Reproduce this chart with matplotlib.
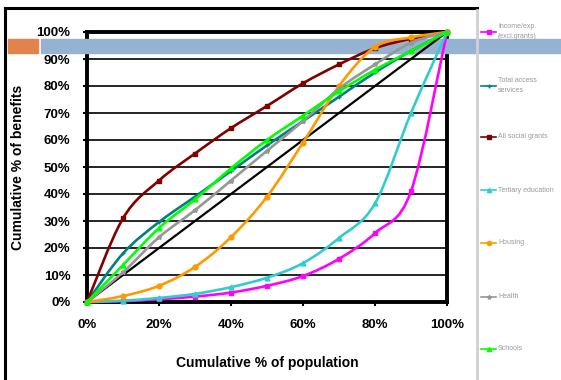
import numpy as np
import matplotlib.pyplot as plt
from matplotlib.lines import Line2D
from matplotlib.patches import Rectangle, PathPatch
from matplotlib.path import Path

plt.rcParams['font.family'] = ['Liberation Sans', 'DejaVu Sans']

# cumulative % of population (deciles)
population = [0, 10, 20, 30, 40, 50, 60, 70, 80, 90, 100]

# cumulative % of benefits per item
income_exp = [0, 0.3, 1, 2, 3.5, 6, 9.6, 16, 25.5, 41, 100]
total_access = [0, 18, 29.6, 39, 48.5, 58, 67, 76, 85, 93, 100]
social_grants = [0, 31, 45, 55, 64.4, 72.6, 81, 88, 94, 97.5, 100]
tertiary = [0, 0.5, 1.5, 3, 5.5, 9, 14.4, 23.7, 36.5, 70, 100]
housing = [0, 2.2, 6, 13, 24, 39, 59, 80, 94.5, 98, 100]
health = [0, 11, 24, 34, 45, 56, 67, 79, 88, 96, 100]
schools = [0, 13.7, 27.4, 38, 49.5, 60, 69, 78, 86, 93, 100]
equality = [0, 10, 20, 30, 40, 50, 60, 70, 80, 90, 100]

series = [
    ('Income/exp.\n(excl.grants)', income_exp, '#ff00ff', 's'),
    ('Total access\nservices', total_access, '#008080', '+'),
    ('All social grants', social_grants, '#800000', 's'),
    ('Tertiary education', tertiary, '#33cccc', '^'),
    ('Housing', housing, '#ff9900', 'o'),
    ('Health', health, '#969696', '*'),
    ('Schools', schools, '#00ff00', '^'),
]
legend_y = [32, 86, 137, 190, 243, 297, 349]


def smooth_path(xs, ys):
    # cubic Bezier through every point (Excel style "smoothed line")
    pts = np.column_stack([xs, ys]).astype(float)
    n = len(pts)
    verts = [pts[0]]
    codes = [Path.MOVETO]
    for i in range(n - 1):
        p0 = pts[max(i - 1, 0)]
        p1 = pts[i]
        p2 = pts[i + 1]
        p3 = pts[min(i + 2, n - 1)]
        c1 = p1 + (p2 - p0) / 6
        c2 = p2 - (p3 - p1) / 6
        verts += [c1, c2, p2]
        codes += [Path.CURVE4] * 3
    return Path(verts, codes)


W, H = 561, 380
fig = plt.figure(figsize=(W / 100, H / 100), dpi=100)
ax = fig.add_axes([87 / W, 1 - 302 / H, 360 / W, 270 / H])

ax.plot(population, equality, color='black', lw=1.6, zorder=3)
for name, vals, col, mk in series:
    ax.add_patch(PathPatch(smooth_path(population, vals), fill=False,
                           edgecolor=col, lw=1.9, zorder=4, clip_on=False))
    ax.plot(population, vals, ls='none', marker=mk, ms=3.5,
            mec=col, mfc=col, zorder=4, clip_on=False)

ax.set_xlim(0, 100)
ax.set_ylim(0, 100)
ax.set_xticks(np.arange(0, 101, 20))
ax.set_yticks(np.arange(0, 101, 10))
ax.set_xticklabels([f'{v}%' for v in range(0, 101, 20)], fontweight='bold', fontsize=9.5)
ax.set_yticklabels([f'{v}%' for v in range(0, 101, 10)], fontweight='bold', fontsize=9.5)
ax.tick_params(axis='x', direction='out', length=3, width=1.5, pad=9)
ax.tick_params(axis='y', direction='out', length=3, width=1.5, pad=9)
for v in range(10, 100, 10):
    ax.axhline(v, color='black', lw=1.2, zorder=1)
for s in ax.spines.values():
    s.set_linewidth(2.8)
    s.set_zorder(2)

ax.set_xlabel('Cumulative % of population', fontweight='bold', fontsize=10, labelpad=18)
ax.set_ylabel('Cumulative % of benefits', fontweight='bold', fontsize=10, labelpad=8)

# slide banner: over the frame, under the curves
band_top = 1 - 39 / H
band_h = 14 / H
ax.add_patch(Rectangle((41 / W, band_top - band_h), 1 - 41 / W, band_h,
                       transform=fig.transFigure, color='#95b3d0',
                       zorder=2.5, clip_on=False))
ax.add_patch(Rectangle((8 / W, band_top - band_h), 30 / W, band_h,
                       transform=fig.transFigure, color='#e0834c',
                       zorder=2.5, clip_on=False))

# frame lines
fig.add_artist(Line2D([5 / W, 477 / W], [1 - 8 / H, 1 - 8 / H], color='black', lw=2.2))
fig.add_artist(Line2D([5 / W, 5 / W], [0, 1 - 8 / H], color='black', lw=2.2))
fig.add_artist(Line2D([477 / W, 477 / W], [0, 1 - 10 / H], color='#d0d0d0', lw=2))

# legend column on the right
for (name, vals, col, mk), ly in zip(series, legend_y):
    yf = 1 - ly / H
    fig.add_artist(Line2D([481 / W, 496 / W], [yf, yf], color=col, lw=1.2))
    fig.add_artist(Line2D([488.5 / W], [yf], color=col, marker=mk, ms=3,
                          mec=col, mfc=col, lw=0))
    fig.text(498 / W, yf, name, fontsize=5, color='#999999', va='center',
             ha='left', linespacing=1.6)

fig.savefig('out.png', dpi=100)
